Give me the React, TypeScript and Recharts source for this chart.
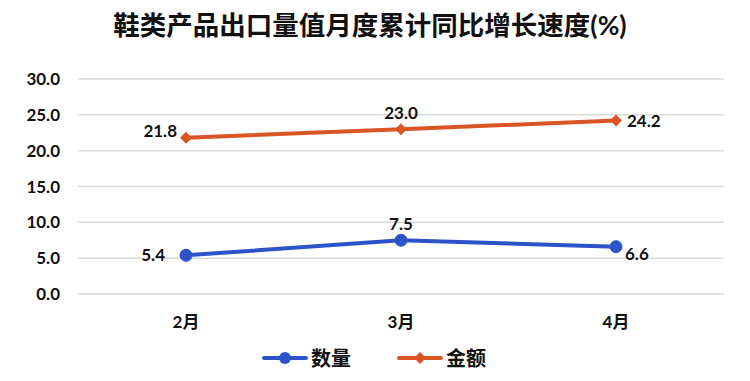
import { CartesianGrid, LabelList, Legend, Line, LineChart, XAxis, YAxis } from 'recharts'

const months = ['2月', '3月', '4月']
const quantity = [5.4, 7.5, 6.6]
const amount = [21.8, 23.0, 24.2]
const yTicks = [0, 5, 10, 15, 20, 25, 30]

const data = months.map((month, i) => ({ month, quantity: quantity[i], amount: amount[i] }))

const BLUE = '#2c53c8'
const ORANGE = '#da5524'
const FONT = "Lato, 'Noto Sans CJK SC', sans-serif"

// label placement per point: [dx, dy, anchor]
const quantityLabelPos: [number, number, string][] = [
  [-21, 6, 'end'],
  [0, -10, 'middle'],
  [9, 13, 'start'],
]
const amountLabelPos: [number, number, string][] = [
  [-9, -1, 'end'],
  [0, -10, 'middle'],
  [11, 6, 'start'],
]

function makeLabel(pos: [number, number, string][]) {
  return function PointLabel(props: any) {
    const { x, y, index, value } = props
    const [dx, dy, anchor] = pos[index]
    return (
      <text
        x={x + dx}
        y={y + dy}
        textAnchor={anchor as any}
        fontSize={17}
        fontWeight={700}
        fill="#111"
        fontFamily={FONT}
      >
        {Number(value).toFixed(1)}
      </text>
    )
  }
}

function Diamond(props: any) {
  const { cx, cy } = props
  if (cx == null || cy == null) return null
  const s = 6
  return (
    <path
      d={`M${cx},${cy - s}L${cx + s},${cy}L${cx},${cy + s}L${cx - s},${cy}Z`}
      fill={ORANGE}
    />
  )
}

function LegendContent() {
  const items = [
    { name: '数量', color: BLUE, shape: 'circle' },
    { name: '金额', color: ORANGE, shape: 'diamond' },
  ]
  return (
    <div
      style={{
        display: 'flex',
        justifyContent: 'center',
        gap: 46,
        fontFamily: FONT,
        position: 'relative',
        left: 12,
        top: 4,
      }}
    >
      {items.map((it) => (
        <div key={it.name} style={{ display: 'flex', alignItems: 'center', gap: 3 }}>
          <svg width={46} height={16}>
            <line x1={2} y1={8} x2={44} y2={8} stroke={it.color} strokeWidth={4} strokeLinecap="round" />
            {it.shape === 'circle' ? (
              <circle cx={23} cy={8} r={6} fill={it.color} />
            ) : (
              <path d="M23,2L29,8L23,14L17,8Z" fill={it.color} />
            )}
          </svg>
          <span style={{ fontSize: 20, fontWeight: 700, color: '#111' }}>{it.name}</span>
        </div>
      ))}
    </div>
  )
}

export default function App() {
  return (
    <div style={{ position: 'absolute', left: 0, top: 0, width: 750, height: 381, background: '#fff' }}>
      <div
        style={{
          position: 'absolute',
          top: 4,
          left: 0,
          width: 740,
          textAlign: 'center',
          fontFamily: FONT,
          fontWeight: 700,
          fontSize: 26.5,
          color: '#111',
        }}
      >
        鞋类产品出口量值月度累计同比增长速度(%)
      </div>
      <LineChart width={750} height={381} data={data} margin={{ top: 79, right: 26, bottom: 6, left: 0 }}>
        <CartesianGrid vertical={false} stroke="#d9d9d9" strokeWidth={1.5} />
        <XAxis
          dataKey="month"
          axisLine={false}
          tickLine={false}
          padding={{ left: 108, right: 108 }}
          height={45}
          tickMargin={16}
          tick={{ fontSize: 17, fontWeight: 700, fill: '#111', fontFamily: FONT }}
        />
        <YAxis
          domain={[0, 30]}
          ticks={yTicks}
          axisLine={false}
          tickLine={false}
          width={78}
          tickSize={0}
          tickMargin={18}
          tickFormatter={(v: number) => v.toFixed(1)}
          tick={{ fontSize: 17, fontWeight: 700, fill: '#111', fontFamily: FONT }}
        />
        <Legend verticalAlign="bottom" height={36} content={<LegendContent />} />
        <Line
          dataKey="quantity"
          name="数量"
          stroke={BLUE}
          strokeWidth={4}
          dot={{ r: 6, fill: BLUE, stroke: BLUE, strokeWidth: 1 }}
          isAnimationActive={false}
        >
          <LabelList dataKey="quantity" content={makeLabel(quantityLabelPos)} />
        </Line>
        <Line
          dataKey="amount"
          name="金额"
          stroke={ORANGE}
          strokeWidth={4}
          dot={<Diamond />}
          isAnimationActive={false}
        >
          <LabelList dataKey="amount" content={makeLabel(amountLabelPos)} />
        </Line>
      </LineChart>
    </div>
  )
}
